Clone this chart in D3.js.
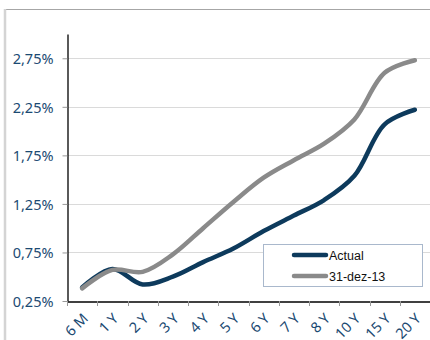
<!DOCTYPE html>
<html>
<head>
<meta charset="utf-8">
<script src="https://cdn.jsdelivr.net/npm/d3@7"></script>
<style>
  body { margin: 0; background: #fff; }
  svg { display: block; }
</style>
</head>
<body>
<svg id="chart" width="430" height="340"></svg>
<script>
const categories = ['6 M', '1 Y', '2 Y', '3 Y', '4 Y', '5 Y', '6 Y', '7 Y', '8 Y', '10 Y', '15 Y', '20 Y']
const actual = [0.39, 0.58, 0.42, 0.50, 0.65, 0.79, 0.97, 1.13, 1.29, 1.54, 2.07, 2.22]
const previous = [0.38, 0.57, 0.55, 0.73, 1.00, 1.27, 1.52, 1.70, 1.87, 2.12, 2.60, 2.73]
const yTicks = [0.25, 0.75, 1.25, 1.75, 2.25, 2.75]
const seriesNames = ['Actual', '31-dez-13']

const svg = d3.select('#chart')
const margin = {top: 34, right: 0, bottom: 39, left: 67}
const width = 430
const height = 340
const labelFont = '"Noto Sans", "Open Sans", sans-serif'

// frame
svg.append('line')
  .attr('x1', 5).attr('x2', 430).attr('y1', 9.5).attr('y2', 9.5)
  .attr('stroke', '#a6a6a6')
svg.append('line')
  .attr('x1', 5).attr('x2', 5).attr('y1', 9).attr('y2', 340)
  .attr('stroke', '#d4d4d4').attr('stroke-width', 2.5)

const x = d3.scaleBand()
  .domain(categories)
  .range([margin.left, width - margin.right])

const y = d3.scaleLinear()
  .domain([0.25, 3.0])
  .range([height - margin.bottom, margin.top])

// grid
svg.append('g')
  .selectAll('line')
  .data(yTicks.slice(1))
  .join('line')
  .attr('x1', margin.left).attr('x2', width)
  .attr('y1', d => Math.round(y(d)) + 0.5).attr('y2', d => Math.round(y(d)) + 0.5)
  .attr('stroke', '#dadada')

const fmt = d => d.toFixed(2).replace('.', ',') + '%'

// y axis
const yAxis = svg.append('g')
  .attr('transform', `translate(${margin.left + 0.5},0)`)
  .call(d3.axisLeft(y).tickValues(yTicks).tickFormat(fmt).tickSize(5).tickSizeOuter(0))
yAxis.select('.domain').attr('stroke', '#000').attr('stroke-width', 1.3)
yAxis.selectAll('.tick line').attr('stroke', '#999')
yAxis.selectAll('.tick text')
  .attr('x', -14)
  .attr('dy', '0.36em')
  .attr('fill', '#1b4a72')
  .style('font-family', labelFont)
  .style('font-size', '14.5px')

// x axis
const xAxis = svg.append('g')
  .attr('transform', `translate(0,${height - margin.bottom + 0.5})`)
  .call(d3.axisBottom(x).tickSize(0).tickSizeOuter(0))
xAxis.select('.domain').attr('stroke', '#000').attr('stroke-width', 1.3)
xAxis.selectAll('.tick text')
  .attr('text-anchor', 'end')
  .attr('dy', 0)
  .attr('y', 0)
  .attr('transform', 'translate(7,18) rotate(-45)')
  .attr('fill', '#1b4a72')
  .style('font-family', labelFont)
  .style('font-size', '14.5px')

// tick marks at band boundaries
svg.append('g')
  .selectAll('line')
  .data(categories)
  .join('line')
  .attr('x1', d => Math.round(x(d)) + 0.5).attr('x2', d => Math.round(x(d)) + 0.5)
  .attr('y1', height - margin.bottom).attr('y2', height - margin.bottom + 5)
  .attr('stroke', '#999')

const line = d3.line()
  .x((d, i) => x(categories[i]) + x.bandwidth() / 2)
  .y(d => y(d))
  .curve(d3.curveCatmullRom.alpha(0.5))

svg.append('path')
  .datum(actual)
  .attr('d', line)
  .attr('fill', 'none')
  .attr('stroke', '#0d3a5c')
  .attr('stroke-width', 4.5)
  .attr('stroke-linecap', 'round')

svg.append('path')
  .datum(previous)
  .attr('d', line)
  .attr('fill', 'none')
  .attr('stroke', '#8a8a8a')
  .attr('stroke-width', 4.5)
  .attr('stroke-linecap', 'round')

// legend
const legend = svg.append('g')
legend.append('rect')
  .attr('x', 263.5).attr('y', 244.5).attr('width', 159).attr('height', 42)
  .attr('fill', '#fff').attr('stroke', '#a9b8cc')
const colors = ['#0d3a5c', '#8a8a8a']
seriesNames.forEach((name, i) => {
  const ly = 255 + i * 21
  legend.append('line')
    .attr('x1', 294).attr('x2', 326).attr('y1', ly).attr('y2', ly)
    .attr('stroke', colors[i]).attr('stroke-width', 4.5).attr('stroke-linecap', 'round')
  legend.append('text')
    .attr('x', 329).attr('y', ly + 4.5)
    .text(name)
    .style('font-family', '"Liberation Sans", Arial, sans-serif')
    .style('font-size', '12.5px')
    .attr('fill', '#111')
})
</script>
</body>
</html>
